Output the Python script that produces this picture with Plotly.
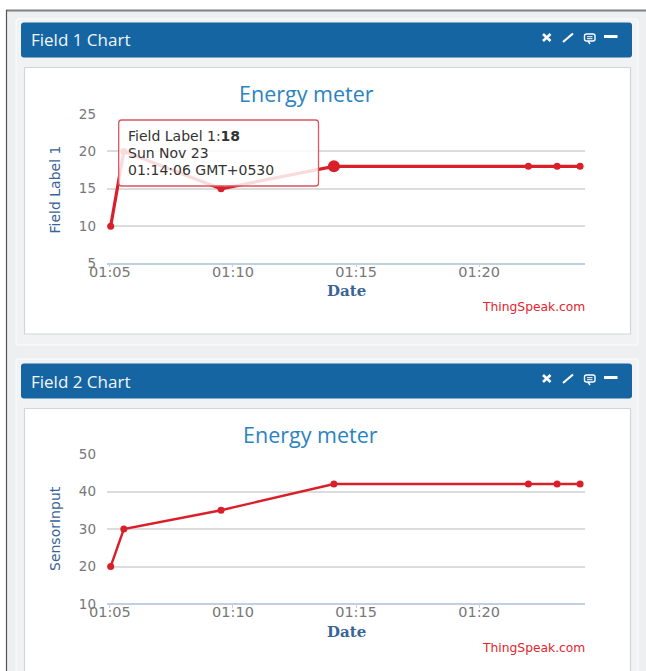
import plotly.graph_objects as go

W, H = 646, 671
times = ["2014-11-23 01:05:02", "2014-11-23 01:05:34", "2014-11-23 01:09:31",
         "2014-11-23 01:14:06", "2014-11-23 01:22:00", "2014-11-23 01:23:10", "2014-11-23 01:24:06"]
field1 = [10, 20, 15, 18, 18, 18, 18]
field2 = [20, 30, 35, 42, 42, 42, 42]
x_ticks = ["2014-11-23 01:05:00", "2014-11-23 01:10:00", "2014-11-23 01:15:00", "2014-11-23 01:20:00"]
x_tick_labels = ["01:05", "01:10", "01:15", "01:20"]
x_range = ["2014-11-23 01:04:53", "2014-11-23 01:24:18"]
y1_ticks = [5, 10, 15, 20, 25]
y2_ticks = [10, 20, 30, 40, 50]
hover_index = 3

RED = "#d9202a"
BLUE = "#1565a3"
FONT = "DejaVu Sans"

def px(x): return x / W
def py(y): return 1 - y / H

fig = go.Figure()
fig.add_trace(go.Scatter(x=times, y=field1, mode="lines+markers", xaxis="x", yaxis="y",
                         line=dict(color=RED, width=3.2), marker=dict(color=RED, size=7)))
fig.add_trace(go.Scatter(x=[times[hover_index]], y=[field1[hover_index]], mode="markers", xaxis="x", yaxis="y",
                         marker=dict(color=RED, size=12)))
fig.add_trace(go.Scatter(x=times, y=field2, mode="lines+markers", xaxis="x2", yaxis="y2",
                         line=dict(color=RED, width=2.4), marker=dict(color=RED, size=7)))

shapes = []
def rect(x0, y0, x1, y1, fill, line=None, layer="below", lw=1):
    shapes.append(dict(type="rect", xref="paper", yref="paper", x0=px(x0), x1=px(x1), y0=py(y0), y1=py(y1),
                       fillcolor=fill, line=dict(color=line or fill, width=lw if line else 0), layer=layer))
def line(x0, y0, x1, y1, color, lw, layer="above"):
    shapes.append(dict(type="line", xref="paper", yref="paper", x0=px(x0), x1=px(x1), y0=py(y0), y1=py(y1),
                       line=dict(color=color, width=lw), layer=layer))
def rrect_path(x0, y0, x1, y1, r):
    pts = lambda a, b: f"{px(a)},{py(b)}"
    return (f"M{pts(x0+r,y0)} L{pts(x1-r,y0)} Q{pts(x1,y0)} {pts(x1,y0+r)} L{pts(x1,y1-r)} Q{pts(x1,y1)} {pts(x1-r,y1)} "
            f"L{pts(x0+r,y1)} Q{pts(x0,y1)} {pts(x0,y1-r)} L{pts(x0,y0+r)} Q{pts(x0,y0)} {pts(x0+r,y0)} Z")
def rrect(x0, y0, x1, y1, r, fill, border=None, lw=1, layer="below"):
    shapes.append(dict(type="path", xref="paper", yref="paper", path=rrect_path(x0, y0, x1, y1, r),
                       fillcolor=fill, line=dict(color=border or fill, width=lw if border else 0), layer=layer))

# page frame and panels
rect(6, 10, 646, 671, "#eeeff0")
line(6, 10.5, 646, 10.5, "#808080", 1.8, "below")
line(6.5, 10, 6.5, 671, "#555555", 1.2, "below")
rrect(16, 19, 638, 345, 3, "#f1f2f3", "#f8f9f9", 1.5)
rrect(16, 359, 638, 690, 3, "#f1f2f3", "#f8f9f9", 1.5)
for top, box_top, box_bottom in [(22.5, 67.5, 334), (363.5, 408.5, 690)]:
    rrect(21, top, 632, top + 35, 3, BLUE)
    rect(24.5, box_top, 630.5, box_bottom, "#ffffff", "#d4d6d6", lw=1.2)
    # header icons
    cy = top + 15
    line(543, cy - 3.5, 550.5, cy + 3.5, "#ffffff", 2.6, "below")
    line(550.5, cy - 3.5, 543, cy + 3.5, "#ffffff", 2.6, "below")
    line(563, cy + 4.5, 573, cy - 4, "#ffffff", 2.2, "below")
    rrect(584.5, cy - 3.5, 595, cy + 3.5, 2, "rgba(0,0,0,0)", "#ffffff", 1.4)
    line(587, cy - 0.8, 592.5, cy - 0.8, "#ffffff", 1, "below")
    line(587, cy + 1.2, 592.5, cy + 1.2, "#ffffff", 1, "below")
    line(588, cy + 3.5, 590, cy + 6.5, "#ffffff", 1.4, "below")
    line(604, cy - 1, 617.5, cy - 1, "#ffffff", 3, "below")

# tooltip over the first chart's line
rrect(118.7, 120, 318.5, 186, 3, "rgba(255,255,255,0.84)", "#dd5560", 1.3, "above")

ann = []
def text(x, y, s, size, color, anchor="center", family=FONT, angle=0):
    ann.append(dict(text=s, xref="paper", yref="paper", x=px(x), y=py(y), xanchor=anchor, yanchor="middle",
                    showarrow=False, textangle=angle, borderpad=0, borderwidth=0,
                    font=dict(family=family, size=size, color=color)))

text(31, 40, "Field 1 Chart", 17, "#f2f6fa", "left", "Open Sans")
text(31, 381.5, "Field 2 Chart", 17, "#f2f6fa", "left", "Open Sans")
text(306.5, 94, "Energy meter", 21.5, "#2b83c0", family="Open Sans")
text(310, 434.5, "Energy meter", 21.5, "#2b83c0", family="Open Sans")
text(585, 306.5, "ThingSpeak.com", 12.3, "#e0262e", "right")
text(585, 647.5, "ThingSpeak.com", 12.3, "#e0262e", "right")
text(128, 136, "Field Label 1:<b>18</b>", 14, "#333333", "left")
text(128, 153, "Sun Nov 23", 14, "#333333", "left")
text(128, 170, "01:14:06 GMT+0530", 14, "#333333", "left")
text(54.5, 190, "Field Label 1", 14, "#386496", angle=-90)
text(54.5, 528.5, "SensorInput", 14, "#386496", angle=-90)
text(346, 291, "<b>Date</b>", 15, "#386496", family="DejaVu Serif")
text(346, 632, "<b>Date</b>", 15, "#386496", family="DejaVu Serif")

def xaxis(y_px):
    return dict(domain=[px(107), px(585)], anchor="free", position=py(y_px), type="date", range=x_range,
                tickmode="array", tickvals=x_ticks, ticktext=x_tick_labels, ticks="outside", ticklen=3,
                tickcolor="#c0d0e0", linecolor="#c0d0e0", linewidth=1.5, showline=True, showgrid=False,
                zeroline=False, ticklabelstandoff=-8, tickfont=dict(family=FONT, size=14.5, color="#777777"))
def yaxis(top, bottom, ticks):
    return dict(domain=[py(bottom), py(top)], anchor="free", position=px(107), range=[ticks[0], ticks[-1]],
                tickmode="array", tickvals=ticks, showgrid=True, gridcolor="#dcdcdc", gridwidth=1.6,
                zeroline=False, showline=False, ticks="", ticklabelstandoff=11,
                tickfont=dict(family=FONT, size=13.5, color="#777777"))

fig.update_layout(
    width=W, height=H, margin=dict(l=0, r=0, t=0, b=0, autoexpand=False), showlegend=False, hovermode=False,
    paper_bgcolor="#ffffff", plot_bgcolor="rgba(0,0,0,0)", shapes=shapes, annotations=ann,
    xaxis=xaxis(263.5), yaxis=yaxis(114, 263.5, y1_ticks),
    xaxis2=xaxis(604), yaxis2=yaxis(454, 604, y2_ticks),
)
fig.write_html("out.html", config=dict(displayModeBar=False),
               post_script="document.body.style.margin='0';document.body.style.overflow='hidden';")
